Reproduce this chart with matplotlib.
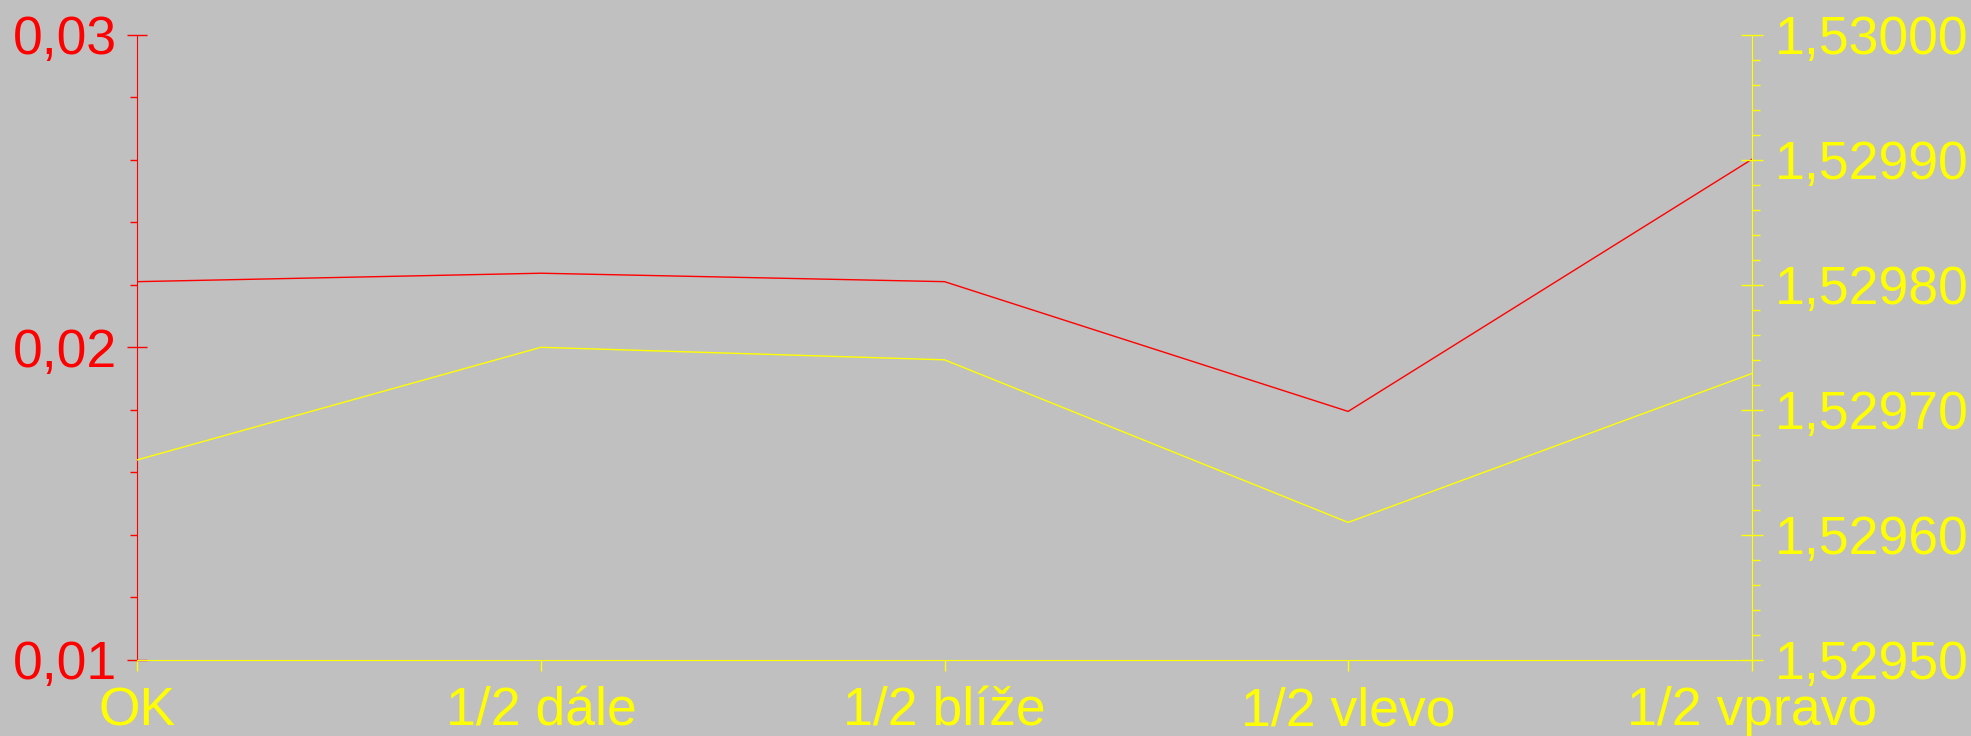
import matplotlib
matplotlib.use('Agg')
import matplotlib.pyplot as plt
from matplotlib.ticker import MultipleLocator, FuncFormatter

# data
categories = ['OK', '1/2 dále', '1/2 blíže', '1/2 vlevo', '1/2 vpravo']
red_values = [0.02210, 0.02237, 0.02210, 0.01795, 0.02601]        # left axis
yellow_values = [1.529660, 1.529750, 1.529740, 1.529610, 1.529729]  # right axis

bg = '#c0c0c0'
red = '#ff0000'
yellow = '#ffff00'
fs = 38.5

plt.rcParams['font.family'] = ['Liberation Sans', 'DejaVu Sans']

fig = plt.figure(figsize=(19.71, 7.36), dpi=100, facecolor=bg)
ax = fig.add_axes([0.06966, 0.1033, 0.8191, 0.8496])
ax.set_facecolor(bg)
ax2 = ax.twinx()

x = range(len(categories))
ax.plot(x, red_values, color=red, linewidth=1)
ax2.plot(x, yellow_values, color=yellow, linewidth=1)

ax.set_xlim(0, len(categories) - 1)
ax.set_ylim(0.01, 0.03)
ax2.set_ylim(1.5295, 1.5300)

# spines
for s in ['top', 'right']:
    ax.spines[s].set_visible(False)
ax.spines['left'].set_color(red)
ax.spines['bottom'].set_color(yellow)
for s in ['top', 'left', 'bottom']:
    ax2.spines[s].set_visible(False)
ax2.spines['right'].set_color(yellow)

# x axis
ax.set_xticks(list(x))
ax.set_xticklabels(categories)
ax.tick_params(axis='x', colors=yellow, labelsize=fs, direction='out', length=8, width=1, pad=11)

# left axis
ax.yaxis.set_major_locator(MultipleLocator(0.01))
ax.yaxis.set_minor_locator(MultipleLocator(0.002))
ax.yaxis.set_major_formatter(FuncFormatter(lambda v, p: ('%.2f' % v).replace('.', ',')))
ax.tick_params(axis='y', which='major', colors=red, labelsize=fs, direction='inout', length=15, width=1, pad=7)
ax.tick_params(axis='y', which='minor', colors=red, direction='out', length=5, width=1)

# right axis
ax2.yaxis.set_major_locator(MultipleLocator(0.0001))
ax2.yaxis.set_minor_locator(MultipleLocator(0.00002))
ax2.yaxis.set_major_formatter(FuncFormatter(lambda v, p: ('%.5f' % v).replace('.', ',')))
ax2.tick_params(axis='y', which='major', colors=yellow, labelsize=fs, direction='inout', length=16, width=1, pad=9)
ax2.tick_params(axis='y', which='minor', colors=yellow, direction='out', length=5.5, width=1)

plt.savefig('out.png', dpi=100, facecolor=bg)
